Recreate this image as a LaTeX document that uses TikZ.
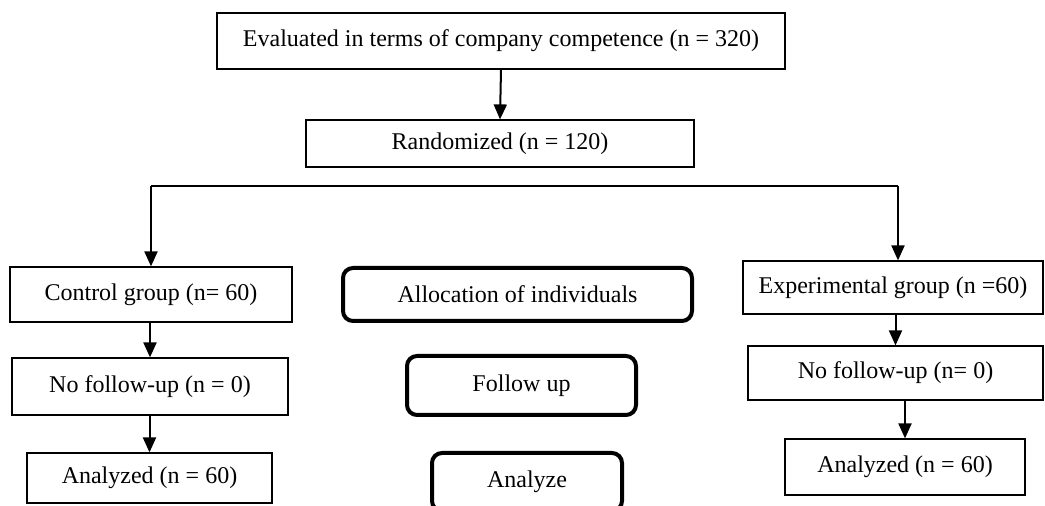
\documentclass[tikz,border=0pt]{standalone}
\usepackage{fontspec}
\setmainfont{Liberation Serif}
\usetikzlibrary{arrows.meta}
\tikzset{
    box/.style={rectangle, draw, line width=0.6pt, inner sep=0pt, font=\fontsize{12}{14}\selectfont},
    rbox/.style={rectangle, draw, rounded corners=5pt, line width=2pt, inner sep=0pt, font=\fontsize{12}{14}\selectfont},
    arr/.style={line width=1pt, -{Triangle[width=6.5pt,length=7.5pt]}}
}
\begin{document}
\begin{tikzpicture}[x=0.5pt, y=-0.5pt]
        \useasboundingbox (0, 0) rectangle (1045, 506);
        \clip (0, 0) rectangle (1045, 506);

        \node[box, minimum width=284pt, minimum height=28pt] (eval) at (501, 41) {Evaluated in terms of company competence (n = 320)};
        \node[box, minimum width=194pt, minimum height=23.5pt] (rand) at (500, 143.5) {Randomized (n = 120)};

        \node[box, minimum width=141pt, minimum height=27.5pt] (ctrl) at (151, 294.5) {Control group (n= 60)};
        \node[box, minimum width=138pt, minimum height=28.5pt] (nofa) at (150, 386.5) {No follow-up (n = 0)};
        \node[box, minimum width=122.5pt, minimum height=25pt] (anaa) at (149.5, 478) {Analyzed (n = 60)};

        \node[rbox, minimum width=174.5pt, minimum height=26.5pt] (alloc) at (517.5, 294.5) {Allocation of individuals};
        \node[rbox, minimum width=114.5pt, minimum height=29.5pt] (follow) at (521.5, 385.5) {Follow up};
        \node[rbox, minimum width=95pt, minimum height=29pt] (analyze) at (527, 482) {Analyze};

        \node[box, minimum width=150pt, minimum height=26.5pt] (expt) at (893, 287.5) {Experimental group (n =60)};
        \node[box, minimum width=147.5pt, minimum height=27pt] (nofb) at (895.5, 373) {No follow-up (n= 0)};
        \node[box, minimum width=120pt, minimum height=28pt] (anab) at (905, 467) {Analyzed (n = 60)};

        \coordinate (bl) at (151, 186);
        \coordinate (br) at (898, 186);

        \draw[arr] (eval.south) -- (rand.north);
        \draw[line width=1pt] (bl) -- (br);
        \draw[arr] (bl) -- (bl |- ctrl.north);
        \draw[arr] (br) -- (br |- expt.north);
        \draw[arr] (nofa.north |- ctrl.south) -- (nofa.north);
        \draw[arr] (anaa.north |- nofa.south) -- (anaa.north);
        \draw[arr] (nofb.north |- expt.south) -- (nofb.north);
        \draw[arr] (anab.north |- nofb.south) -- (anab.north);

    \end{tikzpicture}
\end{document}
